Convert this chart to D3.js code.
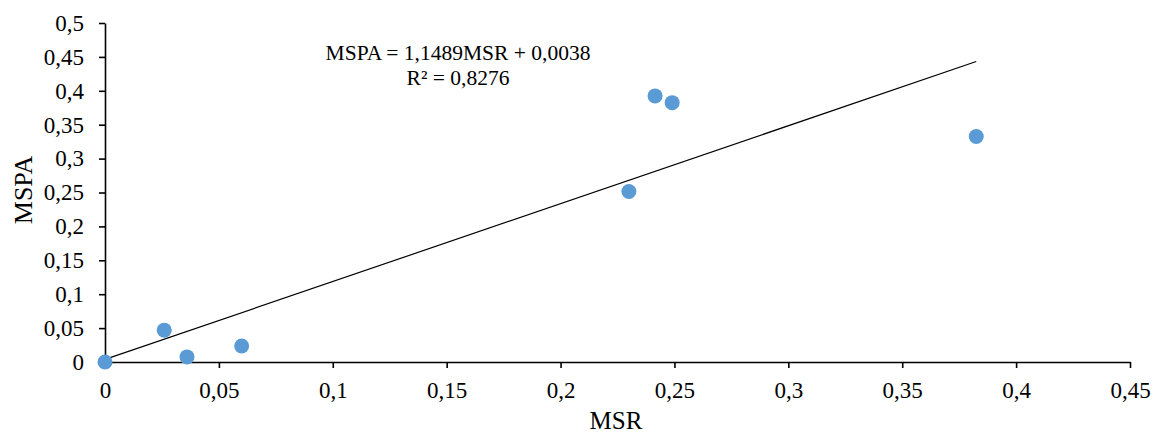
<!DOCTYPE html>
<html>
<head>
<meta charset="utf-8">
<script src="https://cdn.jsdelivr.net/npm/d3@7"></script>
<style>
  body { margin: 0; background: #fff; }
  svg text { font-family: "Liberation Serif", "Times New Roman", serif; fill: #000; }
</style>
</head>
<body>
<main></main>
<script>
// data
var msr  = [0, 0.026, 0.036, 0.060, 0.230, 0.2415, 0.249, 0.3825];
var mspa = [0, 0.047, 0.0075, 0.0235, 0.2515, 0.3925, 0.3825, 0.3325];
var xTicks = [0, 0.05, 0.1, 0.15, 0.2, 0.25, 0.3, 0.35, 0.4, 0.45];
var yTicks = [0, 0.05, 0.1, 0.15, 0.2, 0.25, 0.3, 0.35, 0.4, 0.45, 0.5];
var slope = 1.1489;
var intercept = 0.0038;
var eqText = "MSPA = 1,1489MSR + 0,0038";
var r2Text = "R² = 0,8276";

var width = 1153;
var height = 436;

var fmt = function(v) { return String(+v.toFixed(2)).replace(".", ","); };

var svg = d3.select("main")
    .append("svg")
    .attr("width", width)
    .attr("height", height);

var x = d3.scaleLinear().domain([0, 0.45]).range([105, 1130]);
var y = d3.scaleLinear().domain([0, 0.5]).range([362, 23]);

//axes
var xAxis = svg.append("g")
    .attr("transform", "translate(0," + y(0) + ")")
    .call(d3.axisBottom(x).tickValues(xTicks).tickFormat(fmt).tickSize(6).tickSizeOuter(0));
xAxis.selectAll("text").attr("y", 20);

var yAxis = svg.append("g")
    .attr("transform", "translate(" + x(0) + ",0)")
    .call(d3.axisLeft(y).tickValues(yTicks).tickFormat(fmt).tickSize(6).tickSizeOuter(0));
yAxis.selectAll("text").attr("x", -21);

svg.selectAll(".domain, .tick line")
    .attr("stroke", "#000")
    .attr("stroke-width", 1.6);
svg.selectAll(".tick text")
    .style("font-size", "23px");

//axis titles
svg.append("text")
    .attr("x", 616)
    .attr("y", 429)
    .attr("text-anchor", "middle")
    .style("font-size", "25px")
    .text("MSR");

svg.append("text")
    .attr("transform", "translate(32,190) rotate(-90)")
    .attr("text-anchor", "middle")
    .style("font-size", "26px")
    .text("MSPA");

//trend line
var xMax = d3.max(msr);
svg.append("line")
    .attr("x1", x(0))
    .attr("y1", y(intercept))
    .attr("x2", x(xMax))
    .attr("y2", y(slope * xMax + intercept))
    .attr("stroke", "#000")
    .attr("stroke-width", 1.2);

//points
svg.selectAll("circle")
    .data(msr)
    .enter()
    .append("circle")
    .attr("cx", (d) => x(d))
    .attr("cy", (d, i) => y(mspa[i]))
    .attr("r", 7.5)
    .style("fill", "#5b9bd5");

//equation label
svg.append("text")
    .attr("x", 458)
    .attr("y", 60)
    .attr("text-anchor", "middle")
    .style("font-size", "21.5px")
    .text(eqText);

svg.append("text")
    .attr("x", 458)
    .attr("y", 85)
    .attr("text-anchor", "middle")
    .style("font-size", "21.5px")
    .text(r2Text);
</script>
</body>
</html>
